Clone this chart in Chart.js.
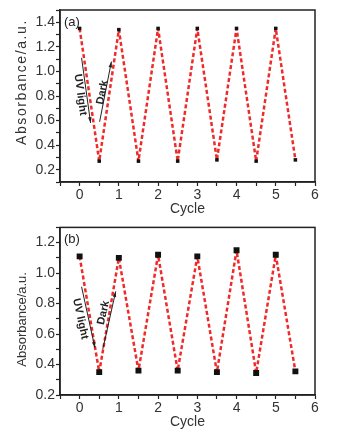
<!DOCTYPE html>
<html>
<head>
<meta charset="utf-8">
<script src="https://cdn.jsdelivr.net/npm/chart.js@4.4.1/dist/chart.umd.min.js"></script>
<style>
html, body { margin: 0; padding: 0; background: #fff; }
#wrap { position: relative; width: 364px; height: 437px; }
.box { position: absolute; left: 0; width: 364px; }
</style>
</head>
<body>
<div id="wrap">
  <div class="box" style="top:0;height:218px"><canvas id="chartA"></canvas></div>
  <div class="box" style="top:218px;height:219px"><canvas id="chartB"></canvas></div>
</div>
<script>
// cycle positions (half cycles = after UV light)
var cycles = [0, 0.5, 1, 1.5, 2, 2.5, 3, 3.5, 4, 4.5, 5, 5.5];
var absA = [1.35, 0.27, 1.34, 0.27, 1.35, 0.27, 1.35, 0.28, 1.35, 0.27, 1.35, 0.28];
var absB = [1.11, 0.35, 1.10, 0.36, 1.12, 0.36, 1.11, 0.35, 1.15, 0.345, 1.12, 0.355];
var xRange = [-0.5, 6];
var yRangeA = [0.1, 1.5];
var yRangeB = [0.2, 1.3];
var xTitle = 'Cycle';
var yTitle = 'Absorbance/a.u.';

var FONT = "'Liberation Sans', Arial, sans-serif";
var INK = '#222';

// frame, y title, panel letter and UV/Dark arrows
function decorPlugin(opts) {
    return {
        id: 'decor',
        afterDraw: function(chart) {
            var ctx = chart.ctx;
            var a = chart.chartArea;
            var xs = chart.scales.x, ys = chart.scales.y;
            ctx.save();
            ctx.strokeStyle = INK;
            ctx.lineWidth = 1.5;
            ctx.strokeRect(a.left, a.top, a.right - a.left, a.bottom - a.top);

            // y axis title
            ctx.save();
            ctx.fillStyle = '#333';
            ctx.font = opts.titleSize + 'px ' + FONT;
            ctx.letterSpacing = opts.titleSpacing + 'px';
            ctx.translate(22, a.top + opts.titleMid);
            ctx.rotate(-Math.PI / 2);
            ctx.textAlign = 'center';
            ctx.textBaseline = 'middle';
            ctx.fillText(yTitle, 0, 0);
            ctx.restore();

            ctx.fillStyle = INK;
            ctx.font = '13px ' + FONT;
            ctx.textBaseline = 'middle';
            ctx.fillText(opts.letter, a.left + 4, a.top + 12);

            opts.notes.forEach(function(n) {
                var x1 = xs.getPixelForValue(n.from[0]), y1 = ys.getPixelForValue(n.from[1]);
                var x2 = xs.getPixelForValue(n.to[0]), y2 = ys.getPixelForValue(n.to[1]);
                var ang = Math.atan2(y2 - y1, x2 - x1);
                ctx.strokeStyle = INK;
                ctx.lineWidth = 1;
                ctx.beginPath();
                ctx.moveTo(x1, y1);
                ctx.lineTo(x2, y2);
                ctx.stroke();
                ctx.beginPath();
                ctx.moveTo(x2, y2);
                ctx.lineTo(x2 - 6 * Math.cos(ang - 0.3), y2 - 6 * Math.sin(ang - 0.3));
                ctx.lineTo(x2 - 6 * Math.cos(ang + 0.3), y2 - 6 * Math.sin(ang + 0.3));
                ctx.closePath();
                ctx.fill();

                var tx = xs.getPixelForValue(n.at[0]), ty = ys.getPixelForValue(n.at[1]);
                ctx.save();
                ctx.translate(tx, ty);
                ctx.rotate(ang);
                ctx.font = 'bold 11px ' + FONT;
                ctx.textAlign = 'center';
                ctx.textBaseline = 'middle';
                ctx.fillText(n.text, 0, 0);
                ctx.restore();
            });
            ctx.restore();
        }
    };
}

function makeChart(id, values, yRange, pointR, padTop, padBottom, opts) {
    var ctx = document.getElementById(id).getContext('2d');
    return new Chart(ctx, {
        type: 'line',
        data: {
            datasets: [{
                data: cycles.map(function(c, i) { return { x: c, y: values[i] }; }),
                borderColor: '#ee2a2a',
                borderWidth: 2.5,
                borderDash: [4, 2.5],
                borderJoinStyle: 'round',
                borderCapStyle: 'butt',
                tension: 0,
                pointStyle: 'rect',
                pointRadius: pointR,
                pointBackgroundColor: '#111',
                pointBorderColor: '#111',
                pointBorderWidth: 0
            }]
        },
        options: {
            responsive: true,
            maintainAspectRatio: false,
            animation: false,
            layout: { padding: { left: 0, right: 49, top: padTop, bottom: padBottom } },
            plugins: { legend: { display: false }, tooltip: { enabled: false } },
            scales: {
                x: {
                    type: 'linear',
                    min: xRange[0],
                    max: xRange[1],
                    afterFit: function(s) { s.height = 36; },
                    ticks: {
                        stepSize: 0.5,
                        autoSkip: false,
                        maxRotation: 0,
                        padding: 1,
                        color: '#333',
                        font: { family: FONT, size: 14 },
                        callback: function(v) { return Number.isInteger(v) ? String(v) : ''; }
                    },
                    grid: { drawOnChartArea: false, drawTicks: true, tickLength: 4, tickColor: INK, tickWidth: 1.2 },
                    border: { display: true, color: INK, width: 1.5 },
                    title: { display: true, text: xTitle, color: '#333', font: { family: FONT, size: 14 }, padding: { top: 0, bottom: 0 } }
                },
                y: {
                    type: 'linear',
                    min: yRange[0],
                    max: yRange[1],
                    afterFit: function(s) { s.width = 60; },
                    ticks: {
                        stepSize: 0.1,
                        autoSkip: false,
                        padding: 1,
                        color: '#333',
                        font: { family: FONT, size: 14 },
                        callback: function(v) {
                            var t = Math.round(v * 10);
                            return t % 2 === 0 ? (t / 10).toFixed(1) : '';
                        }
                    },
                    grid: { drawOnChartArea: false, drawTicks: true, tickLength: 4, tickColor: INK, tickWidth: 1.2 },
                    border: { display: true, color: INK, width: 1.5 }
                }
            }
        },
        plugins: [decorPlugin(opts)]
    });
}

makeChart('chartA', absA, yRangeA, 2.5, 10, 0, {
    letter: '(a)', titleSize: 14, titleSpacing: 1.6, titleMid: 72,
    notes: [
        { from: [0.05, 1.11], to: [0.28, 0.58], at: [0.02, 0.81], text: 'UV light' },
        { from: [0.51, 0.59], to: [0.81, 1.08], at: [0.58, 0.83], text: 'Dark' }
    ]
});

makeChart('chartB', absB, yRangeB, 4.2, 4, 6, {
    letter: '(b)', titleSize: 13, titleSpacing: 0, titleMid: 92,
    notes: [
        { from: [0.05, 0.91], to: [0.39, 0.51], at: [0.02, 0.70], text: 'UV light' },
        { from: [0.59, 0.50], to: [0.92, 0.88], at: [0.61, 0.74], text: 'Dark' }
    ]
});
</script>
</body>
</html>
